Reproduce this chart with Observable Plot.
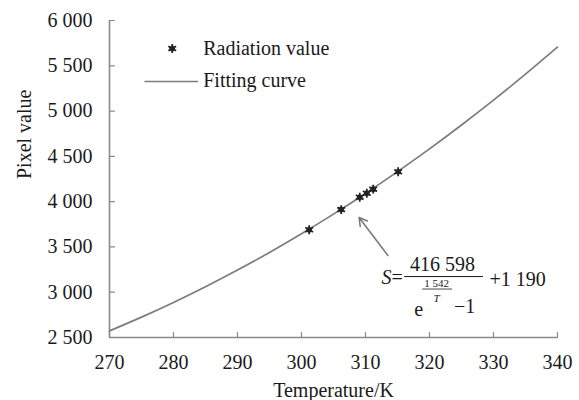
<!DOCTYPE html>
<html><head><meta charset="utf-8">
<script src="https://cdn.jsdelivr.net/npm/d3@7"></script>
<script src="https://cdn.jsdelivr.net/npm/@observablehq/plot@0.6"></script>
<style>body{margin:0;background:#fff} svg text{font-family:"Liberation Serif","Times New Roman",serif;}</style>
</head><body><div id="chart"></div>
<script>
// Fitting curve
const curveT = [270, 275, 280, 285, 290, 295, 300, 305, 310, 315, 320, 325, 330, 335, 340];
const curveS = [2573, 2725, 2887, 3060, 3244, 3439, 3645, 3862, 4090, 4331, 4582, 4846, 5121, 5407, 5706];
// Radiation values
const pointT = [301.2, 306.2, 309.1, 310.2, 311.2, 315.1];
const pointS = [3690, 3912, 4048, 4093, 4138, 4330];
// Ticks
const xTicks = [270, 280, 290, 300, 310, 320, 330, 340];
const yTicks = [2500, 3000, 3500, 4000, 4500, 5000, 5500, 6000];
// Labels
const legendLabels = ["Radiation value", "Fitting curve"];
const xLabel = "Temperature/K";
const yLabel = "Pixel value";
// Annotation anchors (data coordinates)
const legendAt = [279.8, 5691];
const arrowFrom = [313.5, 3405];
const arrowTo = [309.0, 3825];
const formulaAt = [322.2, 3173];

const curve = curveT.map((T, i) => ({T, S: curveS[i]}));
const points = pointT.map((T, i) => ({T, S: pointS[i]}));
const fmt = d => d3.format(",")(d).replace(/,/g, " ");
const lineShape = {draw(ctx, l) { ctx.moveTo(0, 0); ctx.lineTo(0, -l); }};
const AX = "#8a8a8a";
const FONT = "Liberation Serif";
const at = a => ({x: () => a[0], y: () => a[1]});
const txt = (s, a, opts) => Plot.text([s], {...at(a), text: d => d, lineAnchor: "bottom", fill: "#1a1a1a", fontFamily: FONT, ...opts});

const chart = Plot.plot({
  width: 579, height: 400,
  marginLeft: 109, marginRight: 22, marginTop: 20, marginBottom: 63,
  style: {fontFamily: FONT, fontSize: "20px", color: "#1a1a1a", background: "#fff"},
  x: {domain: [270, 340]},
  y: {domain: [2500, 6000]},
  marks: [
    Plot.axisX(xTicks, {tickSize: 0, tickPadding: 17, label: null, fontSize: 20, fontFamily: FONT, fontVariant: "normal", fill: "#1a1a1a"}),
    Plot.axisY(yTicks, {tickSize: 0, tickPadding: 17, tickFormat: fmt, label: null, fontSize: 20, fontFamily: FONT, fontVariant: "normal", fill: "#1a1a1a"}),
    Plot.vector(xTicks, {x: d => d, frameAnchor: "bottom", length: 5, anchor: "start", shape: lineShape, stroke: AX, strokeWidth: 1.2}),
    Plot.vector(yTicks, {y: d => d, frameAnchor: "left", rotate: 90, length: 5, anchor: "start", shape: lineShape, stroke: AX, strokeWidth: 1.2}),
    Plot.ruleX([270], {stroke: AX, strokeWidth: 1.6}),
    Plot.ruleY([2500], {stroke: AX, strokeWidth: 1.6}),
    Plot.text([xLabel], {frameAnchor: "bottom", lineAnchor: "bottom", dy: 59.5, fontSize: 20, fontFamily: FONT, fill: "#1a1a1a"}),
    Plot.text([yLabel], {frameAnchor: "left", lineAnchor: "bottom", rotate: -90, dx: -79, fontSize: 20, fontFamily: FONT, fill: "#1a1a1a"}),
    Plot.line(curve, {x: "T", y: "S", stroke: "#7c7c7c", strokeWidth: 1.7, curve: "natural"}),
    Plot.dot(points, {x: "T", y: "S", r: 2.8, fill: "#222"}),
    Plot.dot(points, {x: "T", y: "S", symbol: "asterisk", r: 4.2, stroke: "#222", strokeWidth: 1.8}),
    // legend
    Plot.dot([0], {...at(legendAt), r: 2.8, fill: "#222"}),
    Plot.dot([0], {...at(legendAt), symbol: "asterisk", r: 4.2, stroke: "#222", strokeWidth: 1.8}),
    Plot.vector([0], {...at(legendAt), dx: -27, dy: 33, rotate: 90, length: 52, anchor: "start", shape: lineShape, stroke: "#7c7c7c", strokeWidth: 1.7}),
    txt(legendLabels[0], legendAt, {dx: 31, dy: 7, textAnchor: "start", fontSize: 20}),
    txt(legendLabels[1], legendAt, {dx: 31, dy: 39, textAnchor: "start", fontSize: 20}),
    // arrow
    Plot.arrow([0], {x1: () => arrowFrom[0], y1: () => arrowFrom[1], x2: () => arrowTo[0], y2: () => arrowTo[1], stroke: "#777", strokeWidth: 1.5, headLength: 9}),
    // formula
    txt("S", formulaAt, {dx: -62, dy: 7, textAnchor: "start", fontStyle: "italic", fontSize: 20}),
    txt("=", formulaAt, {dx: -52, dy: 7, textAnchor: "start", fontSize: 20}),
    txt("416 598", formulaAt, {dx: -1, dy: -6, textAnchor: "middle", fontSize: 20}),
    Plot.vector([0], {...at(formulaAt), dx: -39, rotate: 90, length: 78, anchor: "start", shape: lineShape, stroke: "#1a1a1a", strokeWidth: 1}),
    txt("e", formulaAt, {dx: -25, dy: 39, textAnchor: "middle", fontSize: 20}),
    txt("1 542", formulaAt, {dx: -7, dy: 10, textAnchor: "middle", fontSize: 11}),
    Plot.vector([0], {...at(formulaAt), dx: -21, dy: 12.5, rotate: 90, length: 29, anchor: "start", shape: lineShape, stroke: "#1a1a1a", strokeWidth: 0.8}),
    txt("T", formulaAt, {dx: -7, dy: 25, textAnchor: "middle", fontStyle: "italic", fontSize: 11}),
    txt("\u22121", formulaAt, {dx: 21, dy: 36, textAnchor: "middle", fontSize: 20}),
    txt("+1 190", formulaAt, {dx: 46, dy: 9, textAnchor: "start", fontSize: 20})
  ]
});
document.getElementById("chart").append(chart);
</script>
</body></html>
